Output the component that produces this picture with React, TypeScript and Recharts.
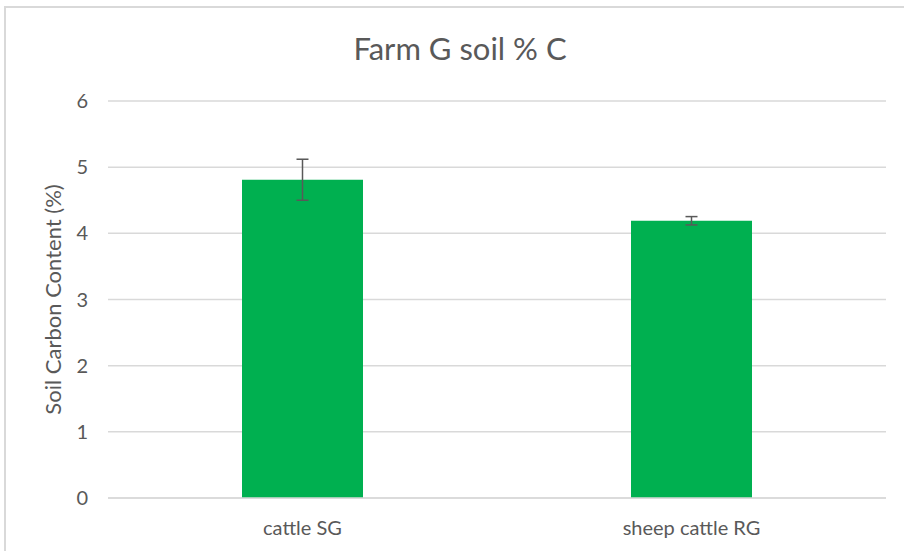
import { BarChart, Bar, XAxis, YAxis, CartesianGrid, ErrorBar, Label } from 'recharts';

const categories = ['cattle SG', 'sheep cattle RG'];
const carbonValues = [4.81, 4.19];
const carbonErrors = [0.31, 0.063];
const yTicks = [0, 1, 2, 3, 4, 5, 6];

const FONT = 'Lato, "Open Sans", sans-serif';
const TEXT = '#595959';
const GRID = '#d9d9d9';

export default function App() {
  const data = categories.map((name, i) => ({
    name,
    value: carbonValues[i],
    err: carbonErrors[i],
  }));

  return (
    <div
      style={{
        position: 'absolute',
        left: 0,
        top: 0,
        width: 904,
        height: 551,
        overflow: 'hidden',
        background: '#fff',
        fontFamily: FONT,
      }}
    >
      <div
        style={{
          position: 'absolute',
          left: 4,
          top: 6,
          width: 940,
          height: 600,
          border: `2px solid ${GRID}`,
        }}
      />
      <svg width={904} height={80} style={{ position: 'absolute', left: 0, top: 0 }}>
        <text x={460} y={60} textAnchor="middle" fill={TEXT} fontSize={31} fontFamily={FONT}>
          Farm G soil % C
        </text>
      </svg>
      <div style={{ position: 'absolute', left: 0, top: 0 }}>
        <BarChart
          width={904}
          height={551}
          data={data}
          margin={{ top: 101, right: 18, bottom: 0, left: 0 }}
        >
          <CartesianGrid vertical={false} stroke={GRID} strokeWidth={1.5} />
          <XAxis
            dataKey="name"
            height={53}
            tickLine={false}
            tickSize={0}
            tickMargin={23}
            axisLine={{ stroke: GRID, strokeWidth: 1.5 }}
            tick={{ fill: TEXT, fontSize: 20, fontFamily: FONT }}
          />
          <YAxis
            width={108}
            domain={[0, 6]}
            ticks={yTicks}
            axisLine={false}
            tickLine={false}
            tickSize={0}
            tickMargin={20}
            tick={{ fill: TEXT, fontSize: 20, fontFamily: FONT }}
          >
            <Label
              value="Soil Carbon Content (%)"
              angle={-90}
              position="center"
              dx={-1}
              style={{ fill: TEXT, fontSize: 22, fontFamily: FONT, textAnchor: 'middle' }}
            />
          </YAxis>
          <Bar dataKey="value" fill="#00b050" barSize={121} isAnimationActive={false}>
            <ErrorBar dataKey="err" width={6} stroke={TEXT} strokeWidth={1.5} direction="y" />
          </Bar>
        </BarChart>
      </div>
    </div>
  );
}
